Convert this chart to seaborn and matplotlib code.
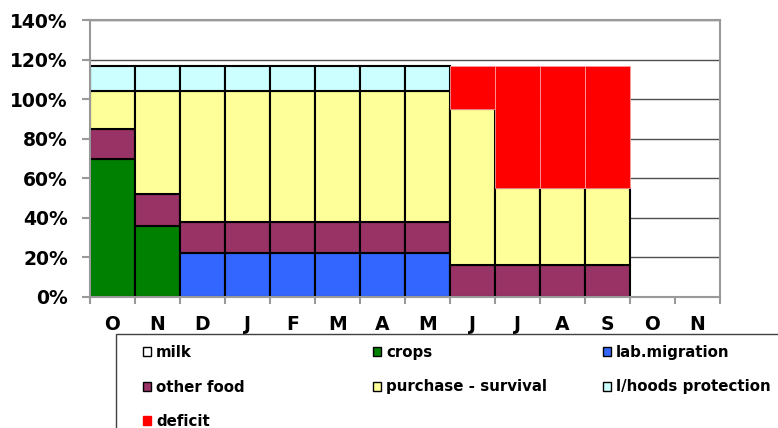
import numpy as np
import pandas as pd
import seaborn as sns
import matplotlib.pyplot as plt
from matplotlib.patches import Patch, Rectangle
from matplotlib.ticker import FuncFormatter

months = ["O", "N", "D", "J", "F", "M", "A", "M", "J", "J", "A", "S", "O", "N"]

# percent of needs, bottom to top
milk = [0, 0, 0, 0, 0, 0, 0, 0, 0, 0, 0, 0, 0, 0]
crops = [70, 36, 0, 0, 0, 0, 0, 0, 0, 0, 0, 0, 0, 0]
lab_migration = [0, 0, 22, 22, 22, 22, 22, 22, 0, 0, 0, 0, 0, 0]
other_food = [15, 16, 16, 16, 16, 16, 16, 16, 16, 16, 16, 16, 0, 0]
purchase = [19, 52, 66, 66, 66, 66, 66, 66, 79, 39, 39, 39, 0, 0]
lhoods = [13, 13, 13, 13, 13, 13, 13, 13, 0, 0, 0, 0, 0, 0]
deficit = [0, 0, 0, 0, 0, 0, 0, 0, 22, 62, 62, 62, 0, 0]

series = [
    ("milk", milk, "#FFFFFF"),
    ("crops", crops, "#008000"),
    ("lab.migration", lab_migration, "#3366FF"),
    ("other food", other_food, "#993366"),
    ("purchase - survival", purchase, "#FFFF99"),
    ("l/hoods protection", lhoods, "#CCFFFF"),
    ("deficit", deficit, "#FF0000"),
]

sns.set_style("white")
plt.rcParams["font.family"] = ["DejaVu Sans"]
plt.rcParams["font.weight"] = "bold"
plt.rcParams["text.color"] = "black"
plt.rcParams["xtick.labelcolor"] = "black"
plt.rcParams["ytick.labelcolor"] = "black"

fig = plt.figure(figsize=(7.78, 4.28), dpi=100)
ax = fig.add_axes([90 / 778, 1 - 297 / 428, 630 / 778, 277 / 428])

pos = np.arange(len(months))
bottom = np.zeros(len(months))
for name, vals, col in series:
    vals = np.array(vals, dtype=float)
    mask = vals > 0
    if mask.any():
        if name == "deficit":
            ec, lw = "#FF9999", 0.6
        else:
            ec, lw = "black", 1.5
        sns.barplot(x=pos[mask], y=vals[mask], bottom=bottom[mask], native_scale=True,
                    orient="x", width=1, color=col, saturation=1, edgecolor=ec,
                    linewidth=lw, ax=ax, zorder=2)
    bottom += vals

ax.set_xlim(-0.5, len(months) - 0.5)
ax.set_ylim(0, 140)
ax.set_yticks(range(0, 141, 20))
ax.yaxis.set_major_formatter(FuncFormatter(lambda v, p: f"{v:.0f}%"))
ax.set_xticks(pos)
ax.set_xticklabels(months)
ax.set_xticks(np.arange(-0.5, len(months)), minor=True)
ax.set_xlabel("")
ax.set_ylabel("")

ax.set_axisbelow(True)
ax.yaxis.grid(True, color="#505050", linewidth=1)
ax.xaxis.grid(False)
for s in ax.spines.values():
    s.set_color("#999999")
    s.set_linewidth(1.5)

ax.tick_params(axis="y", which="major", direction="out", length=6, width=1.5, color="#999999",
               pad=10, labelsize=13.5, left=True, labelcolor="black")
ax.tick_params(axis="x", which="major", length=0, pad=13, labelsize=13.5, labelcolor="black")
ax.tick_params(axis="x", which="minor", direction="out", length=5, width=1.5, color="#999999",
               bottom=True)

# legend frame, running off the figure like the original
fig.patches.append(Rectangle((116 / 778, -0.2), 1.0, 1 - 334 / 428 + 0.2,
                             transform=fig.transFigure, fill=False,
                             edgecolor="#404040", linewidth=1))

handles = {}
for name, vals, col in series:
    ec = col if name == "deficit" else "black"
    handles[name] = Patch(facecolor=col, edgecolor=ec, linewidth=1)

columns = [
    (143, ["milk", "other food", "deficit"]),
    (373, ["crops", "purchase - survival"]),
    (603, ["lab.migration", "l/hoods protection"]),
]
for x0, names in columns:
    leg = fig.legend([handles[n] for n in names], names, loc="upper left",
                     bbox_to_anchor=(x0 / 778, 1 - 345 / 428), frameon=False, borderpad=0,
                     borderaxespad=0, handlelength=0.53, handleheight=0.53, handletextpad=0.35,
                     labelspacing=1.3, prop={"size": 10.8, "weight": "bold"})
    for t in leg.get_texts():
        t.set_color("black")

fig.savefig("out.png", dpi=100)
